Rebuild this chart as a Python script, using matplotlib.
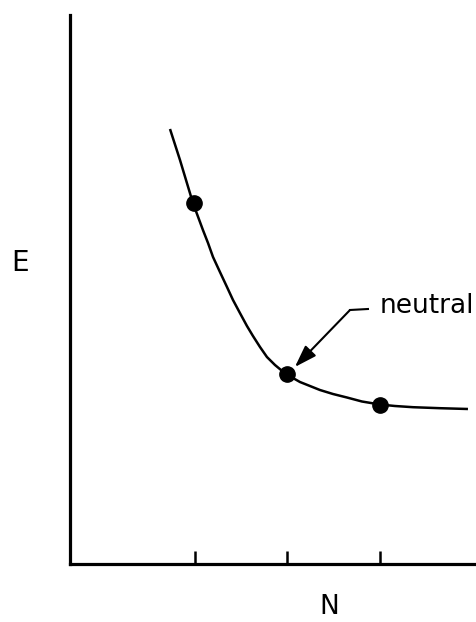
import matplotlib
matplotlib.use("Agg")
import matplotlib.pyplot as plt

# curve (N, E in arbitrary units)
curve_n = [0.730, 0.838, 0.978, 1.086, 1.141, 1.195, 1.270, 1.346, 1.411,
           1.486, 1.562, 1.627, 1.703, 1.778, 1.865, 1.930, 1.995, 2.059,
           2.135, 2.243, 2.351, 2.492, 2.643, 2.805, 3.000, 3.162, 3.357,
           3.649, 3.951]
curve_e = [4.35, 4.04, 3.61, 3.34, 3.21, 3.07, 2.92, 2.77, 2.64,
           2.51, 2.38, 2.28, 2.17, 2.07, 1.99, 1.94, 1.90, 1.86,
           1.82, 1.78, 1.74, 1.70, 1.665, 1.625, 1.595, 1.58, 1.568,
           1.558, 1.55]

# the three marked points
pts_n = [0.99, 2.0, 3.0]
pts_e = [3.61, 1.90, 1.59]

tick_n = [1, 2, 3]

fig = plt.figure(figsize=(4.76, 6.22), dpi=100)
ax = fig.add_axes([70 / 476, 58 / 622, 406 / 476, 549 / 622])
ax.set_xlim(-0.351, 4.038)
ax.set_ylim(0, 5.49)

ax.plot(curve_n, curve_e, color="k", lw=1.8, solid_capstyle="butt",
        solid_joinstyle="round")
ax.plot(pts_n, pts_e, "o", color="k", ms=11)

# "neutral" label with an elbow leader + arrow
ax.plot([2.87, 2.676], [2.55, 2.54], color="k", lw=1.5)
ax.annotate("", xy=(2.08, 1.97), xytext=(2.676, 2.54),
            arrowprops=dict(arrowstyle="-|>,head_length=0.9,head_width=0.3",
                            mutation_scale=15, color="k", lw=1.5,
                            shrinkA=0, shrinkB=0))
ax.text(3.0, 2.58, "neutral", fontsize=19, ha="left", va="center")

for side in ("top", "right"):
    ax.spines[side].set_visible(False)
for side in ("left", "bottom"):
    ax.spines[side].set_linewidth(2.3)
ax.set_xticks(tick_n)
ax.set_xticklabels([])
ax.set_yticks([])
ax.tick_params(axis="x", direction="in", length=9.5, width=1.8)

fig.text(20 / 476, 1 - 263 / 622, "E", fontsize=20, ha="center", va="center")
fig.text(329 / 476, 1 - 607 / 622, "N", fontsize=19, ha="center", va="center")

fig.savefig("out.png", dpi=100)
